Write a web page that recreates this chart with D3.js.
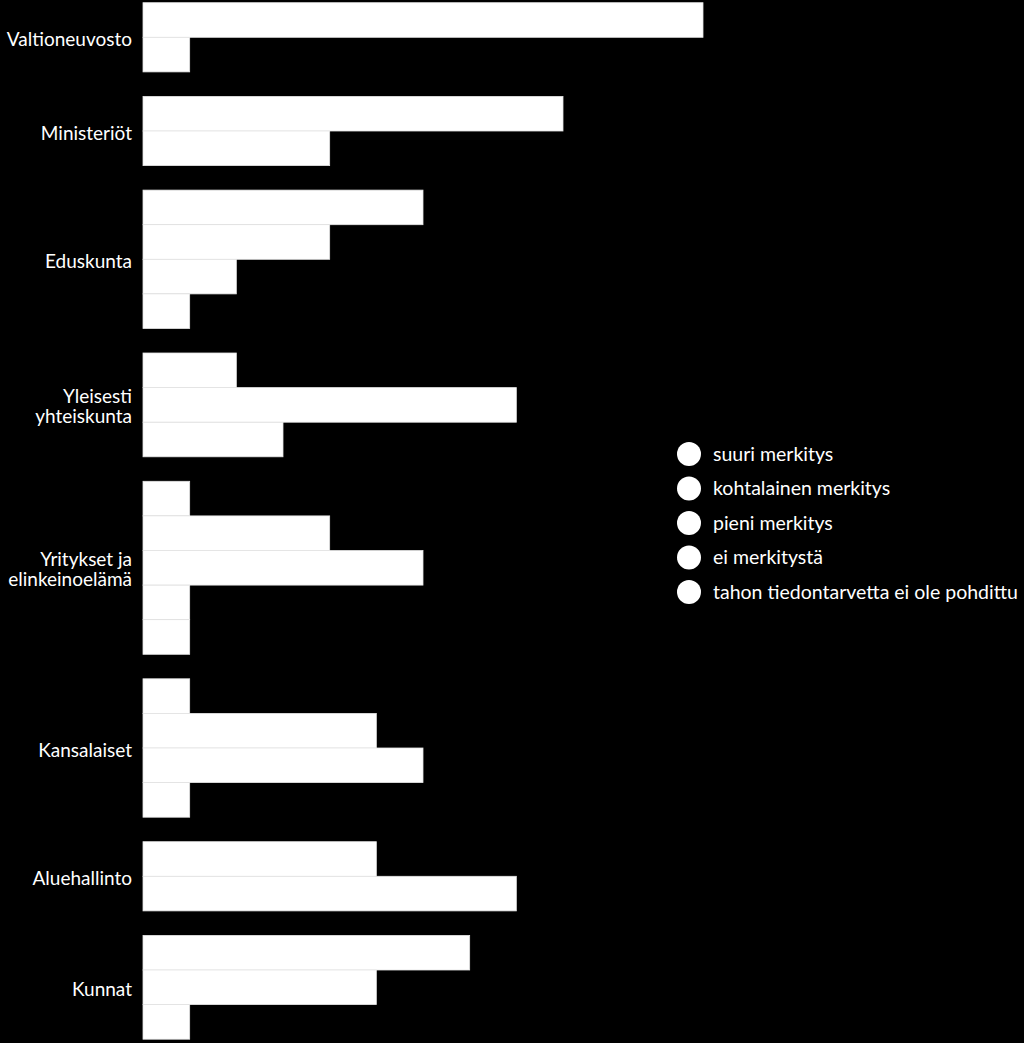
<!DOCTYPE html>
<html>
<head>
<meta charset="utf-8">
<script src="https://cdn.jsdelivr.net/npm/d3@7"></script>
<style>
  body { margin: 0; background: #000; }
  svg { display: block; background: #000; }
  .label, .legend text { fill: #fff; font-family: Lato, "Open Sans", sans-serif; }
</style>
</head>
<body>
<div id="chart"></div>
<script>
// Counts of respondents (13 in total per row).
var categories = ["Valtioneuvosto", "Ministeriöt", "Eduskunta", "Yleisesti yhteiskunta",
    "Yritykset ja elinkeinoelämä", "Kansalaiset", "Aluehallinto", "Kunnat"];
var labelLines = [["Valtioneuvosto"], ["Ministeriöt"], ["Eduskunta"], ["Yleisesti", "yhteiskunta"],
    ["Yritykset ja", "elinkeinoelämä"], ["Kansalaiset"], ["Aluehallinto"], ["Kunnat"]];
var seriesNames = ["suuri merkitys", "kohtalainen merkitys", "pieni merkitys", "ei merkitystä",
    "tahon tiedontarvetta ei ole pohdittu"];
var suuri       = [12, 9, 6, 2, 1, 1, 5, 7];
var kohtalainen = [1, 4, 4, 8, 4, 5, 8, 5];
var pieni       = [0, 0, 2, 3, 6, 6, 0, 1];
var eiMerkitysta = [0, 0, 0, 0, 1, 0, 0, 0];
var eiPohdittu  = [0, 0, 1, 0, 1, 1, 0, 0];

var seriesValues = [suuri, kohtalainen, pieni, eiMerkitysta, eiPohdittu];

var width = 1024, height = 1043;
var barH = 34.6, groupGap = 24.5, top0 = 2.7;
var lineH = 20;

var svg = d3.select("#chart").append("svg")
    .attr("width", width)
    .attr("height", height);

var x = d3.scaleLinear()
    .domain([0, 12])
    .range([143, 703]);

// only non-zero series get a bar, so each group has its own band scale
var groups = [];
var yTop = top0;
categories.forEach(function (c, i) {
    var present = seriesNames.filter(function (s, j) { return seriesValues[j][i] > 0; });
    var band = d3.scaleBand()
        .domain(present)
        .range([yTop, yTop + present.length * barH]);
    groups.push({ name: c, index: i, band: band, lines: labelLines[i],
        bars: present.map(function (s) {
            return { series: s, value: seriesValues[seriesNames.indexOf(s)][i] };
        })
    });
    yTop += present.length * barH + groupGap;
});

var g = svg.selectAll(".group")
    .data(groups)
    .enter().append("g")
    .attr("class", "group");

g.selectAll(".bar")
    .data(function (d) { return d.bars.map(function (b) { b.band = d.band; return b; }); })
    .enter().append("rect")
    .attr("class", "bar")
    .attr("x", x(0))
    .attr("y", function (d) { return d.band(d.series); })
    .attr("width", function (d) { return x(d.value) - x(0); })
    .attr("height", function (d) { return d.band.bandwidth(); })
    .attr("fill", "#fff")
    .attr("stroke", "#e4e4e4")
    .attr("stroke-width", 0.8);

// category labels, centred on the group
g.append("text")
    .attr("class", "label")
    .attr("text-anchor", "end")
    .attr("font-size", 19)
    .attr("x", 132)
    .attr("y", function (d) {
        var r = d.band.range();
        return (r[0] + r[1]) / 2 + 8.5 - (d.lines.length - 1) * lineH / 2;
    })
    .selectAll("tspan")
    .data(function (d) { return d.lines; })
    .enter().append("tspan")
    .attr("x", 132)
    .attr("dy", function (d, i) { return i === 0 ? 0 : lineH; })
    .text(function (d) { return d; });

// legend
var legend = svg.append("g")
    .attr("class", "legend")
    .attr("transform", "translate(689,454)");

var item = legend.selectAll(".item")
    .data(seriesNames)
    .enter().append("g")
    .attr("class", "item")
    .attr("transform", function (d, i) { return "translate(0," + (i * 34.5) + ")"; });

item.append("circle")
    .attr("r", 12)
    .attr("fill", "#fff");

item.append("text")
    .attr("x", 24)
    .attr("y", 6.5)
    .attr("font-size", 19.5)
    .text(function (d) { return d; });
</script>
</body>
</html>
